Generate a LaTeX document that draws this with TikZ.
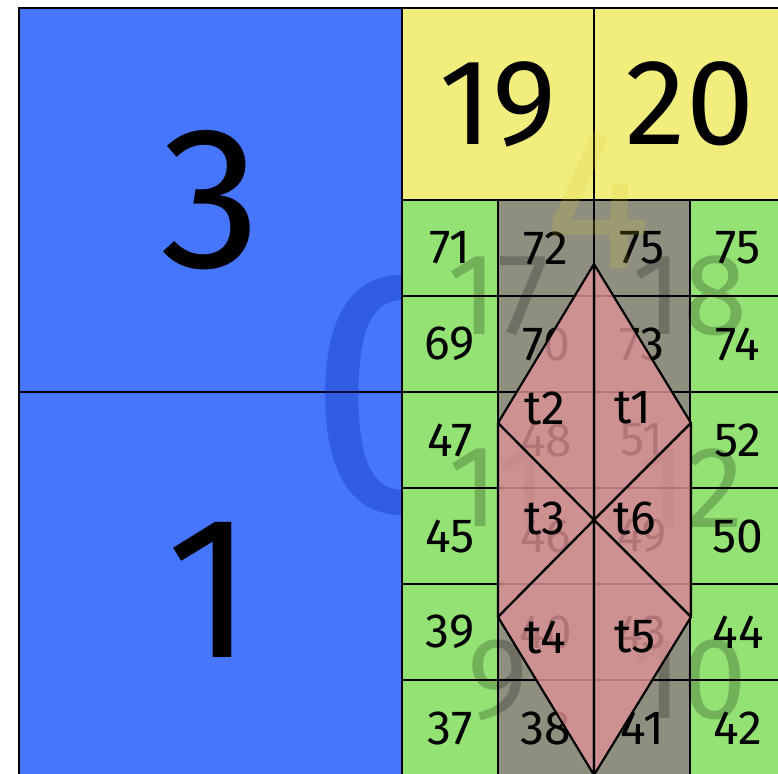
\documentclass[tikz,border=0pt]{standalone}
\usepackage{fontspec}
\setmainfont{Fira Sans}
\usetikzlibrary{positioning}
\definecolor{Sky}{HTML}{4676FE}
\definecolor{DeepSky}{HTML}{0A2FB0}
\definecolor{Lemon}{HTML}{F2EE7E}
\definecolor{Mustard}{HTML}{D8CC30}
\definecolor{Leaf}{HTML}{93E273}
\definecolor{Slate}{HTML}{8F8F80}
\definecolor{Rose}{HTML}{DE9296}

\begin{document}
\begin{tikzpicture}[x=0.5pt,y=-0.5pt,
    box/.style={draw=black, line width=1.3pt, inner sep=0pt},
    leaf/.style={box, fill=Leaf, minimum width=48pt, minimum height=48pt, font=\fontsize{24}{24}\selectfont},
    core/.style={leaf, fill=Slate},
    ghost/.style={inner sep=0pt, text=black, text opacity=0.22, font=\fontsize{58}{58}\selectfont},
    kite/.style={fill=Rose, fill opacity=0.8, draw=black, line width=1.1pt, line join=round},
    tag/.style={inner sep=0pt, font=\fontsize{24}{24}\selectfont}]
  \useasboundingbox (0,0) rectangle (778,773);
  \clip (0,0) rectangle (778,773);

  % level one
  \node[box, fill=Sky, minimum width=191.5pt, minimum height=192pt, font=\fontsize{101}{101}\selectfont] (b3) at (210.5,200) {3};
  \node[box, fill=Sky, minimum width=191.5pt, minimum height=198pt, font=\fontsize{101}{101}\selectfont] (b1) at (210.5,590) {1};
  \node[inner sep=0pt, text=DeepSky, text opacity=0.35, font=\fontsize{174}{174}\selectfont] (q0) at (404,395) {0};

  \node[box, fill=Lemon, minimum width=96pt, minimum height=96pt, font=\fontsize{61}{61}\selectfont] (b19) at (498,104) {19};
  \node[box, fill=Lemon, minimum width=96pt, minimum height=96pt, font=\fontsize{61}{61}\selectfont] (b20) at (690,104) {20};

  % small cells
  \foreach \row [count=\r] in {{71/leaf,72/core,75/core,75/leaf},{69/leaf,70/core,73/core,74/leaf},
      {47/leaf,48/core,51/core,52/leaf},{45/leaf,46/core,49/core,50/leaf},
      {39/leaf,40/core,43/core,44/leaf},{37/leaf,38/core,41/core,42/leaf}}
    \foreach \t/\s [count=\c] in \row
      \node[\s] (cell-\r-\c) at ({354+96*\c},{152+96*\r}) {\t};

  % faint parent labels
  \node[inner sep=0pt, text=Mustard, text opacity=0.18, font=\fontsize{101}{101}\selectfont] (q4) at (598,200) {4};
  \node[ghost] (q17) at (498,296) {17};
  \node[ghost] (q18) at (690,296) {18};
  \node[ghost] (q11) at (498,488) {11};
  \node[ghost] (q12) at (690,488) {12};
  \node[ghost] (q9) at (498,680) {9};
  \node[ghost] (q10) at (690,680) {10};

  % triangles
  \coordinate (apex) at (594,264);
  \coordinate (kl) at (498,423);
  \coordinate (kr) at (691,423);
  \coordinate (kc) at (594,520);
  \coordinate (bl) at (498,617);
  \coordinate (br) at (691,617);
  \coordinate (foot) at (594,775);
  \draw[kite] (apex) -- (kr) -- (kc) -- cycle;
  \draw[kite] (apex) -- (kl) -- (kc) -- cycle;
  \draw[kite] (kl) -- (kc) -- (bl) -- cycle;
  \draw[kite] (kr) -- (kc) -- (br) -- cycle;
  \draw[kite] (bl) -- (kc) -- (foot) -- cycle;
  \draw[kite] (br) -- (kc) -- (foot) -- cycle;

  \node[tag] (t1) at (633,408) {t1};
  \node[tag] (t2) at (545,408) {t2};
  \node[tag] (t3) at (545,518) {t3};
  \node[tag] (t6) at (635,518) {t6};
  \node[tag] (t4) at (545,637) {t4};
  \node[tag] (t5) at (635,637) {t5};
\end{tikzpicture}
\end{document}
